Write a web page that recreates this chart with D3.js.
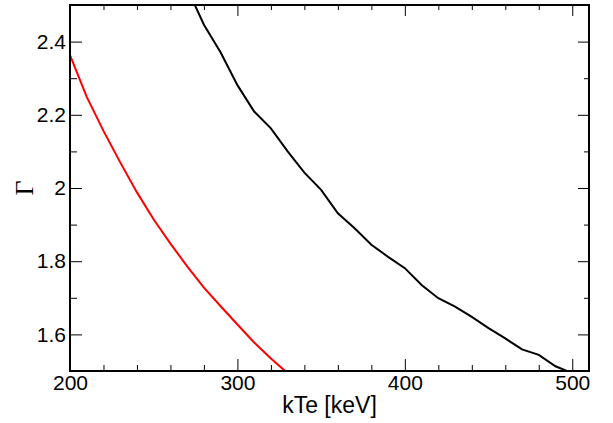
<!DOCTYPE html>
<html>
<head>
<meta charset="utf-8">
<script src="https://cdn.jsdelivr.net/npm/d3@7"></script>
<style>
  body { margin: 0; background: #fff; }
  text { font-family: "Liberation Sans", Arial, sans-serif; }
</style>
</head>
<body>
<div id="graph"></div>
<script>
// values
var redTe    = [200, 210, 220, 230, 240, 250, 260, 270, 280, 290, 300, 310, 320, 330]
var redGamma = [2.363, 2.249, 2.156, 2.070, 1.988, 1.914, 1.848, 1.786, 1.728, 1.677, 1.627, 1.578, 1.534, 1.494]

var blackTe    = [270, 280, 290, 300, 310, 320, 330, 340, 350, 360, 370, 380, 390, 400,
                  410, 420, 430, 440, 450, 460, 470, 480, 490, 500]
var blackGamma = [2.545, 2.446, 2.370, 2.281, 2.209, 2.163, 2.100, 2.042, 1.995, 1.931, 1.890, 1.845, 1.812, 1.781,
                  1.735, 1.699, 1.676, 1.648, 1.617, 1.589, 1.559, 1.544, 1.513, 1.494]

var xMajorTicks = [200, 300, 400, 500]
var xMinorTicks = [220, 240, 260, 280, 320, 340, 360, 380, 420, 440, 460, 480]
var yMajorTicks = [1.6, 1.8, 2, 2.2, 2.4]
var yMinorTicks = [1.7, 1.9, 2.1, 2.3]

var xTitle = "kTe [keV]"
var yTitle = "Γ"

/*
    Set the dimensions and margins of the graph
*/
var margin = {top: 5, right: 24, bottom: 52, left: 70},
    width = 613 - margin.left - margin.right,
    height = 423 - margin.top - margin.bottom

var svg = d3.select("#graph").append("svg")
            .attr("width", 613)
            .attr("height", 423)
            .append("g")
            .attr("transform", "translate(" + margin.left + "," + margin.top + ")")

// Set the ranges
var x = d3.scaleLinear().domain([200, 510]).range([0, width]),
    y = d3.scaleLinear().domain([1.5, 2.5]).range([height, 0])

svg.append("clipPath").attr("id", "clip")
   .append("rect").attr("width", width).attr("height", height)

var line = d3.line()
    .x(function(d) { return x(d[0]) })
    .y(function(d) { return y(d[1]) })

var curves = [
    {te: redTe, gamma: redGamma, color: "#ff0000"},
    {te: blackTe, gamma: blackGamma, color: "#000000"}
]

curves.forEach(function(c) {
    svg.append("path")
       .datum(d3.zip(c.te, c.gamma))
       .attr("clip-path", "url(#clip)")
       .attr("fill", "none")
       .attr("stroke", c.color)
       .attr("stroke-width", 2)
       .attr("d", line)
})

// ticks go inward, ROOT style
function tickAxis(axis, vals, size, fmt) {
    return axis.tickValues(vals).tickSize(-size).tickSizeOuter(0).tickFormat(fmt || "")
}

var bottom = svg.append("g").attr("transform", "translate(0," + height + ")")
bottom.append("g").call(tickAxis(d3.axisBottom(x), xMajorTicks, 12, d3.format("d")).tickPadding(4))
bottom.append("g").call(tickAxis(d3.axisBottom(x), xMinorTicks, 6))

svg.append("g").call(tickAxis(d3.axisTop(x), xMajorTicks, 11))
svg.append("g").call(tickAxis(d3.axisTop(x), xMinorTicks, 5))

svg.append("g").call(tickAxis(d3.axisLeft(y), yMajorTicks, 12, function(d) { return String(d) }).tickPadding(4))
svg.append("g").call(tickAxis(d3.axisLeft(y), yMinorTicks, 7))

var right = svg.append("g").attr("transform", "translate(" + width + ",0)")
right.append("g").call(tickAxis(d3.axisRight(y), yMajorTicks, 11))
right.append("g").call(tickAxis(d3.axisRight(y), yMinorTicks, 5))

svg.selectAll(".domain").remove()
svg.selectAll(".tick line").attr("stroke", "#000").attr("stroke-width", 1)
svg.selectAll(".tick text")
   .attr("fill", "#000")
   .style("font-family", "'Liberation Sans', Arial, sans-serif")
   .style("font-size", "21px")

// frame
svg.append("rect")
   .attr("width", width)
   .attr("height", height)
   .attr("fill", "none")
   .attr("stroke", "#000")
   .attr("stroke-width", 2)

// axis titles
svg.append("text")
   .attr("x", width / 2)
   .attr("y", height + 42)
   .attr("text-anchor", "middle")
   .style("font-size", "23px")
   .text(xTitle)

svg.append("text")
   .attr("transform", "translate(-37," + (height / 2) + ") rotate(-90)")
   .attr("text-anchor", "middle")
   .style("font-family", "'Liberation Serif', 'Times New Roman', serif")
   .style("font-size", "26px")
   .text(yTitle)
</script>
</body>
</html>
